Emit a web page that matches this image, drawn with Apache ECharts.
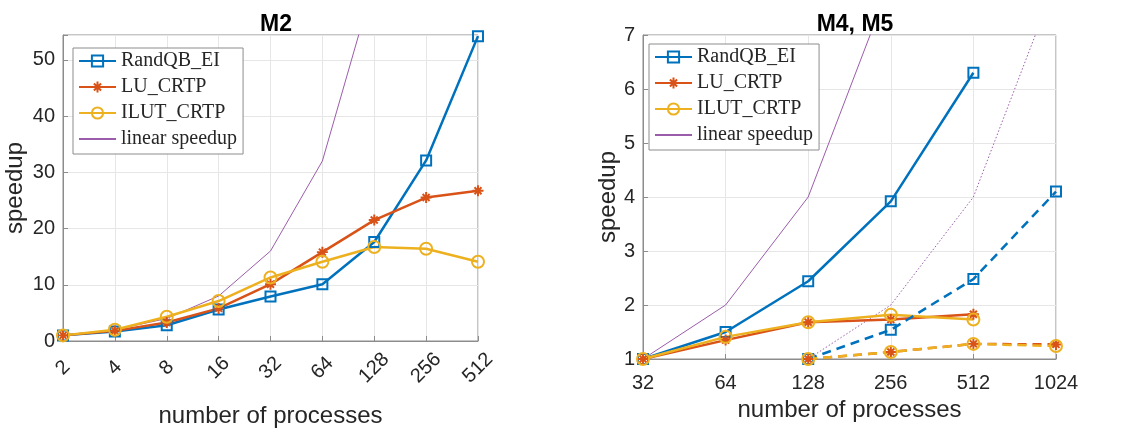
<!DOCTYPE html>
<html>
<head>
<meta charset="utf-8">
<script src="https://cdn.jsdelivr.net/npm/echarts@6/dist/echarts.min.js"></script>
<style>
  html, body { margin: 0; padding: 0; background: #fff; }
  #chart { width: 1123px; height: 429px; }
</style>
</head>
<body>
<div id="chart"></div>
<script>
// M2 (left)
const procsM2 = ['2', '4', '8', '16', '32', '64', '128', '256', '512']
const randqbM2 = [1.0, 1.7, 2.8, 5.6, 7.9, 10.1, 17.6, 32.1, 54.2]
const luM2 = [1.0, 1.8, 3.3, 5.8, 10.1, 15.8, 21.5, 25.5, 26.7]
const ilutM2 = [1.0, 2.0, 4.3, 7.1, 11.3, 14.1, 16.7, 16.4, 14.1]
const linearM2 = [1, 2, 4, 8, 16, 32, 64, 128, 256]

// M4 (solid) and M5 (dashed), right
const procsM45 = ['32', '64', '128', '256', '512', '1024']
const randqbM4 = [1.0, 1.5, 2.44, 3.92, 6.3]
const luM4 = [1.0, 1.35, 1.68, 1.73, 1.83]
const ilutM4 = [1.0, 1.41, 1.68, 1.82, 1.73]
const linearM4 = [1, 2, 4, 8, 16]
const randqbM5 = [null, null, 1.0, 1.54, 2.48, 4.1]
const luM5 = [null, null, 1.0, 1.13, 1.28, 1.27]
const ilutM5 = [null, null, 1.0, 1.13, 1.28, 1.24]
const linearM5 = [null, null, 1, 2, 4, 8]

const legendNames = ['RandQB_EI', 'LU_CRTP', 'ILUT_CRTP', 'linear speedup']

const BLUE = '#0072BD'
const RED = '#D95319'
const YELLOW = '#EDB120'
const PURPLE = '#9B5CAB'

// matlab style asterisk marker
const asterisk = 'path://M0 4.1L10 4.1L10 5.9L0 5.9Z M4.1 0L5.9 0L5.9 10L4.1 10Z M2.46 1.18L8.82 7.54L7.54 8.82L1.18 2.46Z M1.18 7.54L7.54 1.18L8.82 2.46L2.46 8.82Z'

const chart = echarts.init(document.getElementById('chart'), null, { renderer: 'canvas' })

const axisFont = { fontFamily: 'Liberation Sans, Arial, sans-serif', fontSize: 20, color: '#262626' }
const nameFont = { fontFamily: 'Liberation Sans, Arial, sans-serif', fontSize: 24, color: '#262626' }

const makeLine = (name, data, idx, color, symbol, size, dashed) => ({
  name,
  type: 'line',
  xAxisIndex: idx,
  yAxisIndex: idx,
  data,
  color,
  symbol,
  symbolSize: size,
  showSymbol: true,
  connectNulls: false,
  lineStyle: { width: 2.5, color, type: dashed ? [9, 6] : 'solid' },
  itemStyle: symbol === asterisk
    ? { color }
    : { color: 'rgba(255,255,255,0)', borderColor: color, borderWidth: 2 }
})

const makeLinear = (name, data, idx, dotted) => ({
  name,
  type: 'line',
  xAxisIndex: idx,
  yAxisIndex: idx,
  data,
  color: PURPLE,
  symbol: 'none',
  lineStyle: { width: 1, color: PURPLE, type: dotted ? [1.5, 2] : 'solid' }
})

const xAxisBase = (data, gridIndex) => ({
  type: 'category',
  gridIndex,
  data,
  boundaryGap: false,
  nameLocation: 'middle',
  nameTextStyle: nameFont,
  axisLine: { lineStyle: { color: '#8c8c8c' } },
  axisTick: { inside: true, length: 5, lineStyle: { color: '#8c8c8c' } },
  splitLine: { show: true, lineStyle: { color: '#e6e6e6' } }
})

const yAxisBase = (gridIndex) => ({
  type: 'value',
  gridIndex,
  name: 'speedup',
  nameLocation: 'middle',
  nameTextStyle: nameFont,
  axisLine: { show: true, lineStyle: { color: '#8c8c8c' } },
  axisTick: { show: true, inside: true, length: 5, lineStyle: { color: '#8c8c8c' } },
  splitLine: { show: true, lineStyle: { color: '#e6e6e6' } }
})

const legendData = legendNames.map(name =>
  name === 'linear speedup' ? { name, itemStyle: { opacity: 0 } } : name
)

const legendBase = {
  orient: 'vertical',
  data: legendData,
  itemWidth: 37,
  itemHeight: 14,
  itemGap: 6,
  padding: [3, 6, 5, 5],
  borderColor: '#8c8c8c',
  borderWidth: 1,
  backgroundColor: '#fff',
  selectedMode: false,
  textStyle: { fontFamily: 'Liberation Serif, serif', fontSize: 20, color: '#262626', lineHeight: 20 }
}

chart.setOption({
  animation: false,
  title: [
    { text: 'M2', left: 271, top: 8, textAlign: 'center',
      textStyle: { fontFamily: 'Liberation Sans, Arial', fontSize: 23, fontWeight: 'bold', color: '#000' } },
    { text: 'M4, M5', left: 850, top: 8, textAlign: 'center',
      textStyle: { fontFamily: 'Liberation Sans, Arial', fontSize: 23, fontWeight: 'bold', color: '#000' } }
  ],
  legend: [
    Object.assign({}, legendBase, { left: 73, top: 48 }),
    Object.assign({}, legendBase, { left: 649, top: 44 })
  ],
  grid: [
    { left: 63, top: 35, width: 415, height: 306, show: true, borderColor: '#8c8c8c', borderWidth: 1,
      containLabel: false, outerBoundsMode: 'none' },
    { left: 643, top: 35, width: 413, height: 324, show: true, borderColor: '#8c8c8c', borderWidth: 1,
      containLabel: false, outerBoundsMode: 'none' }
  ],
  xAxis: [
    Object.assign(xAxisBase(procsM2, 0), {
      name: 'number of processes',
      nameGap: 63,
      axisLabel: Object.assign({}, axisFont, { rotate: 45, margin: 27, align: 'center', verticalAlign: 'middle' })
    }),
    Object.assign(xAxisBase(procsM45, 1), {
      name: 'number of processes',
      nameGap: 33,
      axisLabel: Object.assign({}, axisFont, { margin: 14 })
    })
  ],
  yAxis: [
    Object.assign(yAxisBase(0), {
      min: 0, max: 54.4, interval: 10, nameGap: 36,
      axisLabel: Object.assign({}, axisFont, {
        margin: 8,
        formatter: v => (v % 10 === 0 ? String(v) : '')
      })
    }),
    Object.assign(yAxisBase(1), {
      min: 1, max: 7, interval: 1, nameGap: 22,
      axisLabel: Object.assign({}, axisFont, { margin: 8 })
    })
  ],
  series: [
    makeLinear('linear speedup', linearM2, 0, false),
    makeLine('RandQB_EI', randqbM2, 0, BLUE, 'rect', 10, false),
    makeLine('LU_CRTP', luM2, 0, RED, asterisk, 11, false),
    makeLine('ILUT_CRTP', ilutM2, 0, YELLOW, 'circle', 12, false),

    makeLinear('linear speedup', linearM4, 1, false),
    makeLinear('linear speedup M5', linearM5, 1, true),
    makeLine('RandQB_EI', randqbM4, 1, BLUE, 'rect', 10, false),
    makeLine('LU_CRTP', luM4, 1, RED, asterisk, 11, false),
    makeLine('ILUT_CRTP', ilutM4, 1, YELLOW, 'circle', 12, false),
    makeLine('RandQB_EI M5', randqbM5, 1, BLUE, 'rect', 10, true),
    makeLine('LU_CRTP M5', luM5, 1, RED, asterisk, 11, true),
    makeLine('ILUT_CRTP M5', ilutM5, 1, YELLOW, 'circle', 12, true)
  ]
})

window.addEventListener('resize', () => chart.resize())
</script>
</body>
</html>
